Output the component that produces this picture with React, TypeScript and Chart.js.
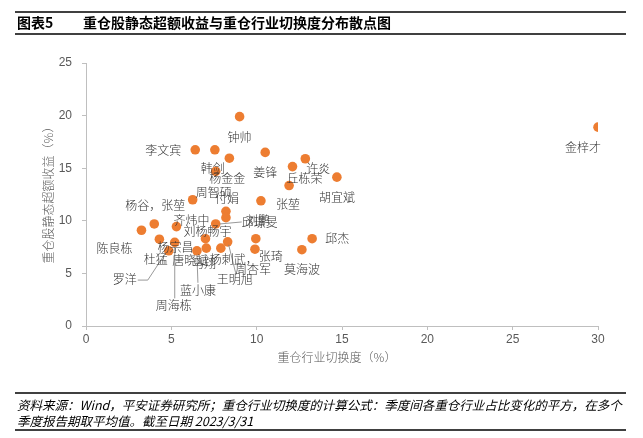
import React, { useEffect, useRef } from "react";
import { Chart, registerables } from "chart.js";

Chart.register(...registerables);

// Data: 重仓行业切换度 (%) vs 重仓股静态超额收益 (%)
const xValues = [30.0, 9.0, 6.4, 7.55, 8.4, 7.6, 10.5, 12.1, 12.85, 14.7, 11.9, 6.25, 10.25, 8.2, 8.2, 7.6, 3.25, 4.0, 5.3, 4.3, 5.2, 4.85, 7.0, 7.05, 6.5, 8.3, 7.9, 9.95, 9.9, 13.25, 12.65];
const yValues = [18.9, 19.9, 16.75, 16.75, 15.95, 14.7, 16.5, 15.15, 15.9, 14.15, 13.35, 12.0, 11.9, 10.9, 10.3, 9.7, 9.1, 9.7, 9.45, 8.25, 7.95, 7.15, 8.3, 7.4, 7.15, 8.0, 7.4, 8.3, 7.3, 8.3, 7.25];

const labelNames = ["金梓才", "钟帅", "李文宾", "韩剑", "杨金金", "姜锋", "许炎", "丘栋荣", "胡宜斌", "张堃", "周智硕", "付娟", "刘鹏", "邱璟旻", "陈良栋", "杨谷，张堃", "齐炜中", "杨宗昌", "刘杨畅宇", "杜猛", "唐晓斌", "马翔", "杨刺武，", "张琦", "周杏军", "王明旭", "蓝小康", "罗洋", "周海栋", "邱杰", "莫海波"];
const labelPoint = [0, 1, 2, 5, 4, 6, 8, 7, 9, 10, 11, 13, 12, 15, 16, 17, 18, 19, 22, 21, 23, 24, 26, 27, 28, 25, 24, 21, 20, 29, 30];

const xTicksMax = 30;
const yTicksMax = 25;
const tickStep = 5;

const titleLabel = "图表5";
const titleText = "重仓股静态超额收益与重仓行业切换度分布散点图";
const xTitle = "重仓行业切换度（%）";
const yTitle = "重仓股静态超额收益（%）";
const footer1 = "资料来源：Wind，平安证券研究所；重仓行业切换度的计算公式：季度间各重仓行业占比变化的平方，在多个";
const footer2 = "季度报告期取平均值。截至日期 2023/3/31";

// label placement (pixel offsets from the point)
const labelOffsets: number[][] = [[-15, 20], [0, 21], [-32, 1], [-3, -3], [-2, 20], [0, 20], [13, 10], [12, 12], [0, 20], [-1, 19], [21, -7], [1, -13], [-3, 20], [44, -2], [-27, 18], [1, -19], [15, -6], [16, 8], [2, -7], [-13, 9], [-16, 12], [7, 13], [13, 11], [15, 18], [-2, 20], [7, 38], [1, 40], [-44, 29], [-1, 63], [25, 0], [0, 20]];
const leaderLines: { point: number; pts: number[][] }[] = [
  { point: 15, pts: [[4, 0], [26, -2]] },
  { point: 21, pts: [[-31, 29.3], [-21, 29.3], [-5, 5]] },
  { point: 20, pts: [[0, 5], [0, 56]] },
  { point: 24, pts: [[1, 32], [0, 4]] },
  { point: 25, pts: [[1, 3], [8, 31]] },
];

const CJK = "'Noto Sans CJK SC', 'Noto Sans', sans-serif";

const decorPlugin = {
  id: "decor",
  afterDatasetsDraw(chart: any) {
    const ctx = chart.ctx as CanvasRenderingContext2D;
    const xs = chart.scales.x;
    const ys = chart.scales.y;
    ctx.save();
    ctx.strokeStyle = "#7f7f7f";
    ctx.lineWidth = 0.8;
    leaderLines.forEach((l) => {
      const px = xs.getPixelForValue(xValues[l.point]);
      const py = ys.getPixelForValue(yValues[l.point]);
      ctx.beginPath();
      l.pts.forEach((p, i) => {
        if (i === 0) ctx.moveTo(px + p[0], py + p[1]);
        else ctx.lineTo(px + p[0], py + p[1]);
      });
      ctx.stroke();
    });
    ctx.fillStyle = "#333333";
    ctx.font = `300 12px ${CJK}`;
    ctx.textAlign = "center";
    ctx.textBaseline = "middle";
    labelNames.forEach((name, i) => {
      const idx = labelPoint[i];
      const px = xs.getPixelForValue(xValues[idx]);
      const py = ys.getPixelForValue(yValues[idx]);
      const off = labelOffsets[i];
      ctx.fillText(name, px + off[0], py + off[1]);
    });
    ctx.restore();
  },
  afterDraw(chart: any) {
    const ctx = chart.ctx as CanvasRenderingContext2D;
    ctx.save();
    ctx.strokeStyle = "#000000";
    ctx.lineWidth = 1.5;
    [12, 34, 393, 430].forEach((y) => {
      ctx.beginPath();
      ctx.moveTo(15, y);
      ctx.lineTo(626, y);
      ctx.stroke();
    });
    ctx.fillStyle = "#000000";
    ctx.textBaseline = "middle";
    ctx.textAlign = "left";
    ctx.font = `bold 14px ${CJK}`;
    ctx.fillText(titleLabel, 17, 23);
    ctx.fillText(titleText, 83, 23);
    ctx.fillStyle = "#595959";
    ctx.font = `300 12px ${CJK}`;
    ctx.textAlign = "center";
    ctx.fillText(xTitle, 337, 357);
    ctx.save();
    ctx.translate(48, 192);
    ctx.rotate(-Math.PI / 2);
    ctx.fillText(yTitle, 0, 0);
    ctx.restore();
    ctx.fillStyle = "#000000";
    ctx.textAlign = "left";
    ctx.font = `italic 12.5px ${CJK}`;
    ctx.fillText(footer1, 17, 405);
    ctx.fillText(footer2, 17, 421);
    ctx.restore();
  },
};

export default function App() {
  const ref = useRef<HTMLCanvasElement | null>(null);
  useEffect(() => {
    document.body.style.margin = "0";
    if (!ref.current) return;
    const data = xValues.map((x, i) => ({ x, y: yValues[i] }));
    const chart = new Chart(ref.current, {
      type: "scatter",
      data: {
        datasets: [
          {
            data,
            backgroundColor: "#ED7D31",
            borderColor: "#ED7D31",
            borderWidth: 0,
            pointRadius: 4.8,
            pointHoverRadius: 4.8,
          },
        ],
      },
      options: {
        responsive: false,
        animation: false,
        devicePixelRatio: 1,
        layout: { padding: { left: 0, right: 45, top: 63, bottom: 0 } },
        plugins: { legend: { display: false }, tooltip: { enabled: false } },
        scales: {
          x: {
            type: "linear",
            min: 0,
            max: xTicksMax,
            ticks: { stepSize: tickStep, color: "#595959", font: { family: "'Liberation Sans', Arial", size: 12 }, padding: 2 },
            grid: { drawOnChartArea: false, drawTicks: true, tickLength: 4, color: "#bfbfbf" },
            border: { color: "#bfbfbf", width: 1 },
            afterFit: (s: any) => { s.height = 112; },
          },
          y: {
            type: "linear",
            min: 0,
            max: yTicksMax,
            ticks: { stepSize: tickStep, color: "#595959", font: { family: "'Liberation Sans', Arial", size: 12 }, padding: 10 },
            grid: { drawOnChartArea: false, drawTicks: true, tickLength: 4, color: "#bfbfbf" },
            border: { color: "#bfbfbf", width: 1 },
            afterFit: (s: any) => { s.width = 86; },
          },
        },
      },
      plugins: [decorPlugin],
    } as any);
    return () => chart.destroy();
  }, []);
  return (
    <div style={{ width: 643, height: 438, background: "#ffffff" }}>
      <canvas ref={ref} width={643} height={438} style={{ display: "block" }} />
    </div>
  );
}
